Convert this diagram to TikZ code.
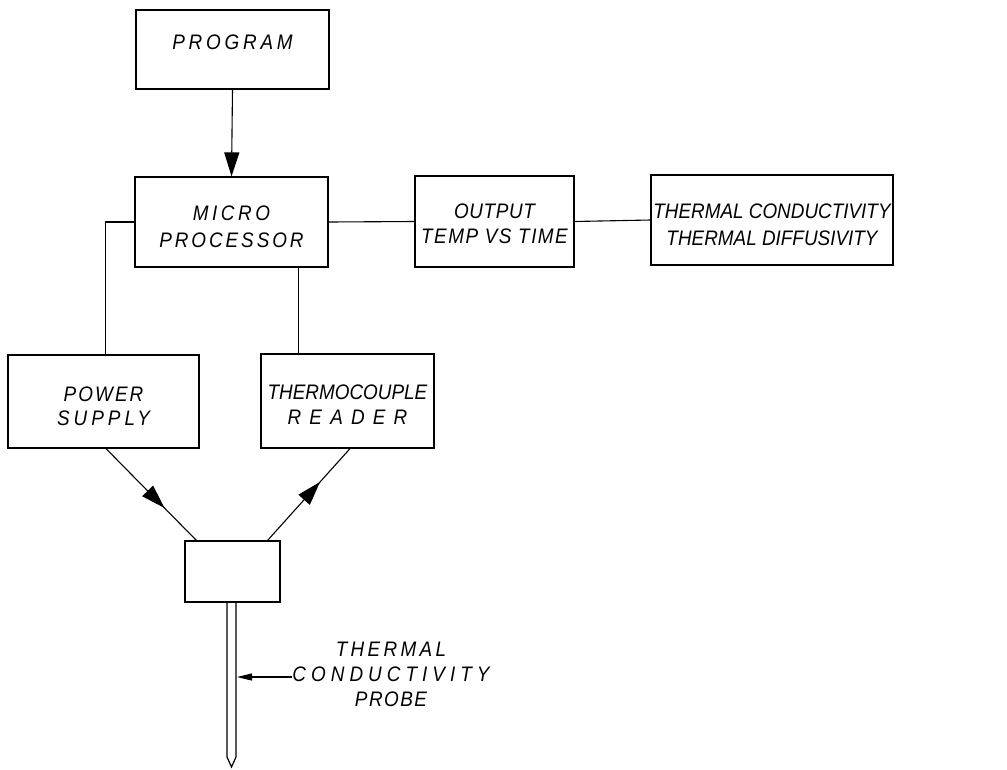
\documentclass[tikz,border=0pt]{standalone}
\usepackage{fontspec}
\setmainfont{Liberation Sans}[FakeStretch=0.9]
\usetikzlibrary{arrows.meta,calc,decorations.markings}
\newcommand{\ls}[2]{{\addfontfeatures{LetterSpace=#1}#2}}
\begin{document}
\begin{tikzpicture}[x=1pt,y=-1pt,
  box/.style={draw,line width=1.2pt,inner sep=0pt},
  txt/.style={align=center,inner sep=0pt,font=\fontsize{21}{#1}\selectfont\itshape},
  txt/.default=27,
  wire/.style={line width=1.1pt},
  bigtip/.style={-{Triangle[length=24pt,width=15pt]}},
  midtip/.style={postaction={decorate},decoration={markings,
    mark=at position #1 with {\arrow{Triangle[length=24pt,width=15pt]}}}}]
\useasboundingbox (0,0) rectangle (1007,769);
% boxes
\node[box,minimum width=193pt,minimum height=79pt] (prog) at (232.5,49.5) {};
\node[box,minimum width=193pt,minimum height=90pt] (micro) at (231.5,222) {};
\node[box,minimum width=159pt,minimum height=91pt] (out) at (494.5,221.5) {};
\node[box,minimum width=242pt,minimum height=90pt] (res) at (772,220) {};
\node[box,minimum width=191pt,minimum height=93pt] (ps) at (103.5,401.5) {};
\node[box,minimum width=173pt,minimum height=94pt] (tc) at (347.5,401) {};
\node[box,minimum width=95pt,minimum height=61pt] (probe) at (232.5,571.5) {};
% texts
\node[txt] (progT) at (232.5,42) {\ls{18}{PROGRAM}};
\node[txt=27] (microT) at (231.5,226.5) {\ls{17}{MICRO}\\\ls{14}{PROCESSOR}};
\node[txt=25] (outT) at (494.5,223.5) {\ls{3}{OUTPUT}\\\ls{7}{TEMP VS TIME}};
\node[txt=27] (resT) at (772,225) {THERMAL CONDUCTIVITY\\THERMAL DIFFUSIVITY};
\node[txt=24] (psT) at (103.5,406.5) {\ls{10}{POWER}\\\ls{19}{SUPPLY}};
\node[txt=25] (tcT) at (347.5,405) {THERMOCOUPLE\\\ls{39}{READER}};
% connectors
\draw[bigtip,wire] (prog.south) -- (micro.north);
\draw[wire] (micro.west) -- ++(-29,0) coordinate (mL) -- (mL |- ps.north);
\draw[wire] (micro.east) -- (out.west);
\draw[wire] (out.east) -- (res.west);
\coordinate (mtap) at ($(micro.south east)+(-30,0)$);
\draw[wire] (mtap) -- (mtap |- tc.north);
\coordinate (psout) at ($(ps.south)+(2.5,0)$);
\coordinate (prin) at ($(probe.north west)+(12,0)$);
\draw[wire,midtip=0.65] (psout) -- (prin);
\coordinate (prout) at ($(probe.north east)+(-13,0)$);
\coordinate (tcin) at ($(tc.south)+(2.5,0)$);
\draw[wire,midtip=0.64] (prout) -- (tcin);
% probe rod
\draw[line width=1.2pt] (227,602) -- (227,757) -- (231.5,767) -- (236,757) -- (236,602);
\coordinate (rodpt) at (237,677);
\node[txt=25] (plabel) at (391,674.5) {\ls{16}{THERMAL}\\\ls{24}{CONDUCTIVITY}\\\ls{7}{PROBE}};
\draw[wire,-{Triangle[length=15pt,width=7pt]}] (plabel.west |- rodpt) -- (rodpt);
\end{tikzpicture}
\end{document}
